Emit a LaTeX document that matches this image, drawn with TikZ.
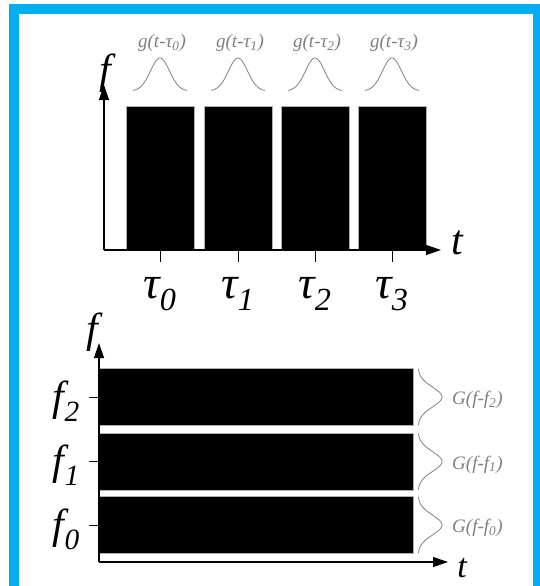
\documentclass[tikz,border=0pt]{standalone}
\usepackage{fontspec}
\setmainfont{Liberation Serif}
\usetikzlibrary{arrows.meta}
\definecolor{FrameBlue}{HTML}{00AEEF}
\definecolor{CurveGray}{HTML}{808080}
\definecolor{SlotLine}{HTML}{B0B0B0}

\begin{document}
\begin{tikzpicture}[x=1pt,y=-1pt,>={Triangle[length=15pt,width=10pt]}]
  \tikzstyle{slot}=[draw=SlotLine,fill=black,inner sep=0pt,line width=0.8pt]
  \tikzstyle{axis}=[->,line width=1.3pt]
  \tikzstyle{big}=[inner sep=0pt,font=\fontsize{42}{44}\selectfont\itshape]
  \tikzstyle{small}=[inner sep=0pt,text=CurveGray,font=\fontsize{19}{21}\selectfont\itshape]
  \tikzstyle{bell}=[CurveGray,line width=0.8pt]
  \useasboundingbox (0,0) rectangle (540,586);
  \clip (0,0) rectangle (540,586);
  % frame
  \draw[FrameBlue,line width=10pt] (14,600) -- (14,9) -- (538,9) -- (538,600);

  % time slots
  \coordinate (o1) at (104,250);
  \coordinate (fa1) at (104,85);
  \coordinate (ta1) at (441,250);
  \foreach \i/\c in {0/160,1/238,2/315,3/392}{
    \node[slot,minimum width=68pt,minimum height=144pt] (b\i) at (\c,178) {};
    \draw[line width=1pt] (b\i.south) -- ++(0,12);
    \node[big,font=\fontsize{46}{48}\selectfont\itshape,anchor=base] (tau\i) at (\c,298) {τ\textsubscript{\i}};
    \node[small] (g\i) at (\c+2,43) {g(t-τ\textsubscript{\i})};
    \draw[bell,shift={(\c,91)}] plot[domain=-27:27,samples=50,smooth] (\x,{-33*exp(-(\x/13.5)^2)});
  }
  \draw[axis] (o1) -- (fa1);
  \draw[axis] (o1) -- (ta1);
  \node[big] (f1lab) at (105,73) {f};
  \node[big] (t1lab) at (457,243) {t};

  % frequency slots
  \coordinate (o2) at (99,562);
  \coordinate (fa2) at (99,343);
  \coordinate (ta2) at (448,562);
  \foreach \i/\c in {0/525,1/461.5,2/397}{
    \node[slot,minimum width=314pt,minimum height=57pt] (r\i) at (256,\c) {};
    \draw[line width=1pt] (r\i.west) -- ++(-10,0);
    \node[big,anchor=east] (f\i) at (80,\c+4) {f\textsubscript{\i}};
    \draw[bell,shift={(418,\c)}] plot[domain=-28:28,samples=50,smooth] ({24*exp(-(\x/14)^2)},\x);
    \node[small,anchor=west] (G\i) at (452,\c+3) {G(f-f\textsubscript{\i})};
  }
  \draw[axis] (o2) -- (fa2);
  \draw[axis] (o2) -- (ta2);
  \node[big] (f2lab) at (92,332) {f};
  \node[big,font=\fontsize{34}{36}\selectfont\itshape] (t2lab) at (462,568) {t};
\end{tikzpicture}
\end{document}
